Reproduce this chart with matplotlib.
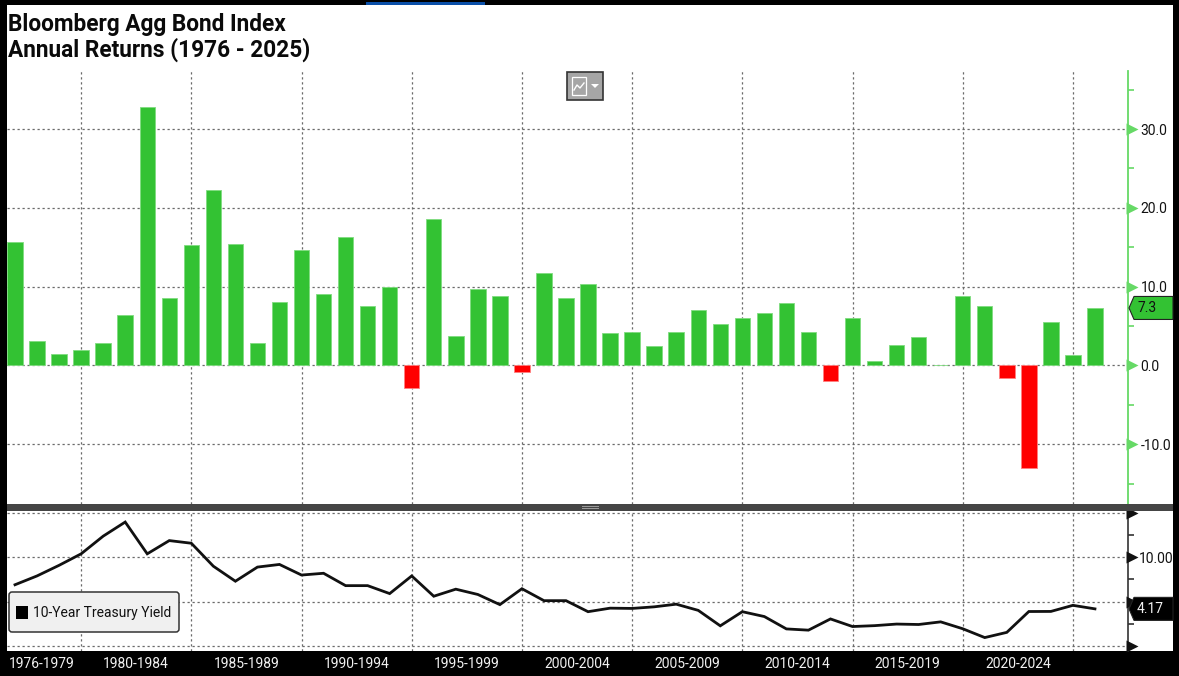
import numpy as np
import matplotlib
matplotlib.use("Agg")
import matplotlib.pyplot as plt
from matplotlib.patches import Rectangle, Polygon, FancyBboxPatch
from matplotlib.transforms import blended_transform_factory, IdentityTransform

plt.rcParams['font.family'] = ['Roboto', 'DejaVu Sans']

years = list(range(1976, 2026))
returns = [15.7, 3.1, 1.5, 2.0, 2.8, 6.4, 32.8, 8.5, 15.3, 22.3, 15.4, 2.9, 8.0, 14.6, 9.1, 16.3,
           7.5, 9.9, -2.8, 18.6, 3.7, 9.7, 8.8, -0.8, 11.7, 8.5, 10.3, 4.1, 4.3, 2.5, 4.3, 7.0,
           5.3, 6.0, 6.7, 7.9, 4.2, -2.0, 6.0, 0.6, 2.6, 3.6, 0.05, 8.8, 7.6, -1.6, -13.0, 5.5, 1.3, 7.3]
yields = [6.9, 7.9, 9.1, 10.4, 12.4, 14.0, 10.4, 11.9, 11.6, 9.0, 7.3, 8.9, 9.2, 8.0, 8.2, 6.8,
          6.8, 5.9, 7.9, 5.6, 6.4, 5.8, 4.65, 6.45, 5.1, 5.1, 3.85, 4.25, 4.22, 4.4, 4.7, 4.0,
          2.25, 3.85, 3.3, 1.9, 1.76, 3.03, 2.17, 2.27, 2.45, 2.4, 2.7, 1.92, 0.92, 1.51, 3.87,
          3.88, 4.57, 4.17]
period_labels = ['1976-1979', '1980-1984', '1985-1989', '1990-1994', '1995-1999', '2000-2004',
                 '2005-2009', '2010-2014', '2015-2019', '2020-2024']
period_centers = [1977.2, 1981.5, 1986.5, 1991.5, 1996.5, 2001.5, 2006.5, 2011.5, 2016.5, 2021.5]
divider_years = list(range(1979, 2025, 5))
top_major = [-10, 0, 10, 20, 30]
top_minor = [-15, -5, 5, 15, 25, 35]
low_major = [0, 5, 10, 15]
low_minor = [2.5, 7.5, 12.5]

W, H = 1179, 676
fig = plt.figure(figsize=(W / 100, H / 100), dpi=100, facecolor='black')


def rect(x0, y0, x1, y1):
    return [x0 / W, 1 - y1 / H, (x1 - x0) / W, (y1 - y0) / H]


def px(x0, y0, x1, y1, **kw):
    fig.add_artist(Rectangle((x0 / W, 1 - y1 / H), (x1 - x0) / W, (y1 - y0) / H,
                             transform=fig.transFigure, **kw))


px(7, 5, 1173, 651, fc='white', ec='none', zorder=-5)
px(366, 2, 485, 5, fc='#0a4fa8', ec='none', zorder=-4)

X0, X1 = 7, 1128
xlim = (1976 - (15 - X0) / 22.04, 1976 + (X1 - 15) / 22.04)
ax = fig.add_axes(rect(X0, 71, X1, 504))
ax2 = fig.add_axes(rect(X0, 511, X1, 651))
GRID = '#6a6a6a'
GREEN = '#33c233'
AXG = '#66d966'
LS = 12 * 10 / 12

for a in (ax, ax2):
    a.set_xlim(*xlim)
    a.patch.set_alpha(0)
    a.yaxis.tick_right()
    for s in ('top', 'left', 'bottom'):
        a.spines[s].set_visible(False)
    a.set_xticks(divider_years)
    a.tick_params(axis='x', which='major', length=0, labelbottom=False)
    a.grid(True, which='major', color=GRID, linestyle=(0, (1.8, 2.2)), linewidth=0.9)
    a.set_axisbelow(True)

colors = [GREEN if v >= 0 else '#ff0000' for v in returns]
edges = ['#7fdc7f' if v >= 0 else '#ff8080' for v in returns]
ax.bar(years, returns, width=0.70, color=colors, edgecolor=edges, linewidth=0.6, zorder=3)
ax.set_ylim(-17.57, 37.36)
ax.set_yticks(top_major)
ax.set_yticklabels([f'{v:.1f}' for v in top_major])
ax.set_yticks(top_minor, minor=True)
ax.spines['right'].set_color(AXG)
ax.spines['right'].set_linewidth(1.3)
ax.tick_params(axis='y', which='major', length=0, pad=9, labelsize=LS, labelcolor='#111111')
ax.tick_params(axis='y', which='minor', length=4, color=AXG, width=1.2)
tr = blended_transform_factory(ax.transAxes, ax.transData)
ax.plot(np.full(len(top_major), 1 + 4 / (X1 - X0)), top_major, ls='none', marker='>', ms=8,
        color=AXG, mec='none', transform=tr, clip_on=False, zorder=5)

ax2.plot(years, yields, color='#111111', lw=2.0, zorder=4, solid_joinstyle='miter')
ax2.set_ylim(-0.6, 15.25)
ax2.set_yticks(low_major)
ax2.set_yticklabels(['', '', '10.00', ''])
ax2.set_yticks(low_minor, minor=True)
ax2.spines['right'].set_color('#333333')
ax2.spines['right'].set_linewidth(1.2)
ax2.tick_params(axis='y', which='major', length=0, pad=8, labelsize=LS, labelcolor='#111111')
ax2.tick_params(axis='y', which='minor', length=4, color='#333333', width=1.2)
tr2 = blended_transform_factory(ax2.transAxes, ax2.transData)
ax2.plot(np.full(len(low_major), 1 + 4 / (X1 - X0)), low_major, ls='none', marker='>', ms=8,
         color='#111111', mec='none', transform=tr2, clip_on=False, zorder=5)

ax2.set_xticks(period_centers, minor=True)
ax2.set_xticklabels(period_labels, minor=True, color='#f2f2f2', fontsize=LS)
ax2.tick_params(axis='x', which='minor', length=0, pad=4)

# divider band between panels
px(7, 504, 1173, 511, fc='#454545', ec='none', zorder=6)
px(582, 506, 599, 507, fc='#9a9a9a', ec='none', zorder=7)
px(582, 508, 599, 509, fc='#9a9a9a', ec='none', zorder=7)


def badge(axis, value, text, face, tcolor):
    fig.canvas.draw()
    y = H - axis.transData.transform((0, value))[1]
    pts = [(1129, y), (1134, y - 11.5), (1173, y - 11.5), (1173, y + 11.5), (1134, y + 11.5)]
    fig.add_artist(Polygon([(p[0], H - p[1]) for p in pts], closed=True, fc=face, ec='#222222',
                           lw=0.8, transform=IdentityTransform(), zorder=8))
    fig.text(1137 / W, 1 - y / H, text, color=tcolor, fontsize=LS, va='center', ha='left', zorder=9)


badge(ax, returns[-1], f'{returns[-1]:.1f}', GREEN, '#111111')
badge(ax2, yields[-1], f'{yields[-1]:.2f}', '#000000', '#f2f2f2')

# legend box
fig.add_artist(FancyBboxPatch((9, H - 632), 170, 40, boxstyle='round,pad=0,rounding_size=3',
                              fc='#f0f0f0', ec='#333333', lw=1.1, transform=IdentityTransform(), zorder=8))
px(16, 606, 28, 619, fc='black', ec='none', zorder=9)
fig.text(33 / W, 1 - 613.5 / H, '10-Year Treasury Yield', fontsize=LS, color='#111111',
         va='center', ha='left', zorder=9)

# chart-type button
px(567, 72, 603, 100, fc='#a6a6a6', ec='#333333', lw=1.2, zorder=8)
px(572, 77, 586, 95, fc='none', ec='white', lw=0.9, zorder=9)
fig.add_artist(Polygon([(591, H - 84), (599, H - 84), (595, H - 88)], closed=True, fc='white', ec='none',
                       transform=IdentityTransform(), zorder=9))
fig.add_artist(plt.Line2D([574, 577, 580, 584], [H - 90, H - 85, H - 88, H - 83], color='white', lw=1,
                          transform=IdentityTransform(), zorder=9))

fig.text(8 / W, 1 - 25 / H, 'Bloomberg Agg Bond Index', fontsize=16.3, fontweight='bold', color='#0a0a0a',
         va='center', ha='left')
fig.text(8 / W, 1 - 50 / H, 'Annual Returns (1976 - 2025)', fontsize=16.3, fontweight='bold', color='#0a0a0a',
         va='center', ha='left')

fig.savefig('out.png', dpi=100, facecolor='black')
